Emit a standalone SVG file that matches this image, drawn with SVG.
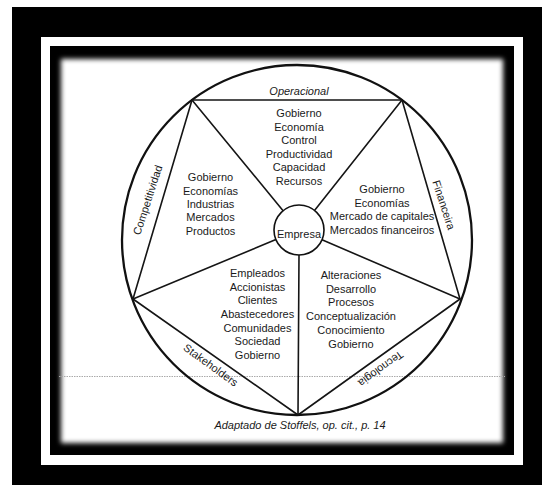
<svg xmlns="http://www.w3.org/2000/svg" width="542" height="485" viewBox="0 0 542 485">
<style>
.ln{fill:none;stroke:#151515;stroke-width:1.6;stroke-linecap:round}
.cir{fill:none;stroke:#111;stroke-width:2.3}
.t{font-family:"Liberation Sans",Arial,sans-serif;font-size:11px;fill:#1a1a1a;text-anchor:middle}
.i{font-style:italic}
</style>
<defs>
<filter id="soft" x="-5%" y="-5%" width="110%" height="110%"><feGaussianBlur stdDeviation="2.6"/></filter>
</defs>
<g id="frame">
<rect x="0" y="0" width="542" height="485" fill="#fff"/>
<rect x="12" y="7" width="530" height="478" fill="#000"/>
<rect x="41" y="37" width="482" height="428" fill="#fff"/>
<rect x="50" y="46" width="464" height="409" fill="#000"/>
<rect x="61" y="59" width="442" height="384" fill="#fff" filter="url(#soft)"/>
<line x1="59" y1="376.5" x2="505" y2="376.5" stroke="#aaa" stroke-width="1" stroke-dasharray="1.5 1"/>
</g>
<g id="outer-circle">
<circle class="cir" cx="297" cy="240" r="175"/>
</g>
<g id="pentagon">
<polygon class="ln" points="192,100 402,100 460,299 298,415 133,299" stroke-linejoin="round"/>
</g>
<g id="connectors">
<line class="ln" x1="192" y1="100" x2="283.1" y2="210.7"/>
<line class="ln" x1="402" y1="100" x2="314.5" y2="210.4"/>
<line class="ln" x1="133" y1="299" x2="275.9" y2="239.6"/>
<line class="ln" x1="460" y1="299" x2="322" y2="239.8"/>
<line class="ln" x1="298" y1="415" x2="299" y2="255"/>
</g>
<g id="empresa">
<circle cx="299" cy="230" r="25" fill="#fff" stroke="#111" stroke-width="1.6"/>
<text class="t" x="299" y="238">Empresa</text>
</g>
<g id="operacional">
<text class="t i" x="299" y="94.5">Operacional</text>
<text class="t" x="299" y="117">Gobierno</text>
<text class="t" x="299" y="130.5">Economía</text>
<text class="t" x="299" y="144">Control</text>
<text class="t" x="299" y="157.5">Productividad</text>
<text class="t" x="299" y="171">Capacidad</text>
<text class="t" x="299" y="184.5">Recursos</text>
</g>
<g id="competitividad">
<text class="t" transform="translate(151.3,201.2) rotate(-72)">Competitividad</text>
<text class="t" x="210.5" y="181">Gobierno</text>
<text class="t" x="210.5" y="194.5">Economías</text>
<text class="t" x="210.5" y="207.5">Industrias</text>
<text class="t" x="210.5" y="221">Mercados</text>
<text class="t" x="210.5" y="234.5">Productos</text>
</g>
<g id="financeira">
<text class="t" transform="translate(440.2,206.2) rotate(72)">Financeira</text>
<text class="t" x="382" y="192.5">Gobierno</text>
<text class="t" x="382" y="206.5">Economías</text>
<text class="t" x="382" y="220">Mercado de capitales</text>
<text class="t" x="382" y="234">Mercados financeiros</text>
</g>
<g id="stakeholders">
<text class="t" transform="translate(208.6,368.2) rotate(36)">Stakeholders</text>
<text class="t" x="257.5" y="277">Empleados</text>
<text class="t" x="257.5" y="290.5">Accionistas</text>
<text class="t" x="257.5" y="304">Clientes</text>
<text class="t" x="257.5" y="317.5">Abastecedores</text>
<text class="t" x="257.5" y="331.5">Comunidades</text>
<text class="t" x="257.5" y="345">Sociedad</text>
<text class="t" x="257.5" y="358.5">Gobierno</text>
</g>
<g id="tecnologia">
<text class="t" transform="translate(378.6,365.8) rotate(144)">Tecnologia</text>
<text class="t" x="351" y="279">Alteraciones</text>
<text class="t" x="351" y="293">Desarrollo</text>
<text class="t" x="351" y="306">Procesos</text>
<text class="t" x="351" y="320">Conceptualización</text>
<text class="t" x="351" y="333.5">Conocimiento</text>
<text class="t" x="351" y="347.5">Gobierno</text>
</g>
<g id="caption">
<text class="t i" x="300" y="429">Adaptado de Stoffels, op. cit., p. 14</text>
</g>
</svg>
